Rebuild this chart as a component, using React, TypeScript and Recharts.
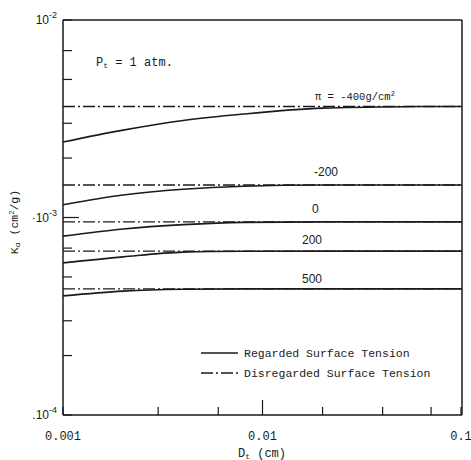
import { LineChart, Line, XAxis, YAxis } from "recharts";

// diameter D_t (cm)
const dSolid = [0.001, 0.002, 0.004, 0.008, 0.02, 0.05, 0.1];
const dFlat = [0.001, 0.1];

// Ka (cm^2/g), regarded surface tension
const kaM400 = [2.41e-3, 2.77e-3, 3.1e-3, 3.34e-3, 3.58e-3, 3.64e-3, 3.65e-3];
const kaM200 = [1.16e-3, 1.3e-3, 1.39e-3, 1.44e-3, 1.46e-3, 1.46e-3, 1.46e-3];
const ka0 = [0.805e-3, 0.875e-3, 0.92e-3, 0.945e-3, 0.95e-3, 0.95e-3, 0.95e-3];
const ka200 = [0.589e-3, 0.632e-3, 0.668e-3, 0.675e-3, 0.676e-3, 0.676e-3, 0.676e-3];
const ka500 = [0.401e-3, 0.424e-3, 0.433e-3, 0.435e-3, 0.435e-3, 0.435e-3, 0.435e-3];

// Ka, disregarded surface tension
const flatKa = [3.65e-3, 1.46e-3, 0.95e-3, 0.676e-3, 0.435e-3];

const xTicks = [
  0.001, 0.002, 0.003, 0.004, 0.005, 0.006, 0.007, 0.008, 0.009, 0.01,
  0.02, 0.03, 0.04, 0.05, 0.06, 0.07, 0.08, 0.09, 0.1,
];
const xLabels: Record<string, string> = { "0.001": "0.001", "0.01": "0.01", "0.1": "0.1" };

const yTicks = [
  1e-4, 2e-4, 3e-4, 4e-4, 5e-4, 6e-4, 7e-4, 8e-4, 9e-4, 1e-3,
  2e-3, 3e-3, 4e-3, 5e-3, 6e-3, 7e-3, 8e-3, 9e-3, 1e-2,
];
const yMajor = [1e-4, 1e-3, 1e-2];
const yPrefix = [".", "·", ""];
const yExp = ["-4", "-3", "-2"];

const toPoints = (xs: number[], ys: number[]) => xs.map((d, i) => ({ d, ka: ys[i] }));
const solidSeries = [kaM400, kaM200, ka0, ka200, ka500].map((ys) => toPoints(dSolid, ys));
const flatSeries = flatKa.map((v) => toPoints(dFlat, [v, v]));

const INK = "#1a1a1a";
const MONO = "'Liberation Mono', 'DejaVu Sans Mono', monospace";
const SANS = "'Liberation Sans', Arial, sans-serif";

const YTick = (props: any) => {
  const { x, y, payload } = props;
  const idx = yMajor.indexOf(payload.value);
  const long = payload.value === 1e-3;
  return (
    <g>
      <line x1={x} x2={x + (long ? 16 : 9)} y1={y} y2={y} stroke={INK} strokeWidth={1.2} />
      {idx >= 0 && (
        <text x={x - 6} y={y + 4} textAnchor="end" fontFamily={SANS} fontSize={12} fill={INK}>
          {yPrefix[idx]}10
          <tspan dy={-6} fontSize={9}>
            {yExp[idx]}
          </tspan>
        </text>
      )}
    </g>
  );
};

const XTick = (props: any) => {
  const { x, y, payload } = props;
  const label = xLabels[String(payload.value)];
  const long = payload.value === 0.01;
  return (
    <g>
      <line x1={x} x2={x} y1={y} y2={y - (long ? 15 : 8)} stroke={INK} strokeWidth={1.2} />
      {label && (
        <text x={x} y={y + 25} textAnchor="middle" fontFamily={MONO} fontSize={12} fill={INK}>
          {label}
        </text>
      )}
    </g>
  );
};

export default function App() {
  return (
    <div style={{ position: "absolute", left: 0, top: 0, width: 471, height: 460, background: "#fff" }}>
      <LineChart width={471} height={460} margin={{ top: 20, right: 9, bottom: 0, left: 0 }}>
        <XAxis
          dataKey="d"
          type="number"
          scale="log"
          domain={[0.001, 0.1]}
          ticks={xTicks}
          allowDataOverflow
          height={45}
          tickSize={0}
          tickMargin={0}
          tickLine={false}
          tick={XTick}
          stroke={INK}
          strokeWidth={1.5}
        />
        <YAxis
          dataKey="ka"
          type="number"
          scale="log"
          domain={[1e-4, 1e-2]}
          ticks={yTicks}
          allowDataOverflow
          width={63}
          tickSize={0}
          tickMargin={0}
          tickLine={false}
          tick={YTick}
          stroke={INK}
          strokeWidth={1.5}
        />
        {flatSeries.map((data, i) => (
          <Line
            key={"f" + i}
            data={data}
            dataKey="ka"
            stroke={INK}
            strokeWidth={1.4}
            strokeDasharray="12 3 2 3"
            dot={false}
            isAnimationActive={false}
          />
        ))}
        {solidSeries.map((data, i) => (
          <Line
            key={"s" + i}
            data={data}
            dataKey="ka"
            type="monotone"
            stroke={INK}
            strokeWidth={1.6}
            dot={false}
            isAnimationActive={false}
          />
        ))}
      </LineChart>
      <svg width={471} height={460} style={{ position: "absolute", left: 0, top: 0, pointerEvents: "none" }}>
        <line x1={63} x2={462} y1={20} y2={20} stroke={INK} strokeWidth={1.5} />
        <line x1={462} x2={462} y1={20} y2={415} stroke={INK} strokeWidth={1.5} />
        <text x={96} y={66} fontFamily={MONO} fontSize={12} fill={INK}>
          P
          <tspan dy={2} fontSize={8}>t</tspan>
          <tspan dy={-2}> = 1 atm.</tspan>
        </text>
        <text x={315} y={100} fontFamily={MONO} fontSize={10.5} fill={INK}>
          π = -400g/cm
          <tspan dy={-4} fontSize={7}>2</tspan>
        </text>
        <text x={314} y={176} fontFamily={SANS} fontSize={12} fill={INK}>-200</text>
        <text x={312} y={213} fontFamily={SANS} fontSize={12} fill={INK}>0</text>
        <text x={302} y={244} fontFamily={SANS} fontSize={12} fill={INK}>200</text>
        <text x={302} y={283} fontFamily={SANS} fontSize={12} fill={INK}>500</text>
        <line x1={201} x2={238} y1={353} y2={353} stroke={INK} strokeWidth={1.6} />
        <text x={244} y={357} fontFamily={MONO} fontSize={11.5} fill={INK}>Regarded Surface Tension</text>
        <line x1={201} x2={238} y1={373} y2={373} stroke={INK} strokeWidth={1.4} strokeDasharray="12 3 2 3" />
        <text x={244} y={377} fontFamily={MONO} fontSize={11.5} fill={INK}>Disregarded Surface Tension</text>
        <text x={262} y={457} textAnchor="middle" fontFamily={MONO} fontSize={12} fill={INK}>
          D
          <tspan dy={2} fontSize={8}>t</tspan>
          <tspan dy={-2}> (cm)</tspan>
        </text>
        <text
          transform="translate(18,222) rotate(-90)"
          textAnchor="middle"
          fontFamily={MONO}
          fontSize={11.5}
          fill={INK}
        >
          K
          <tspan dy={2} fontSize={8}>α</tspan>
          <tspan dy={-2}> (cm</tspan>
          <tspan dy={-4} fontSize={7}>2</tspan>
          <tspan dy={4}>/g)</tspan>
        </text>
      </svg>
    </div>
  );
}
